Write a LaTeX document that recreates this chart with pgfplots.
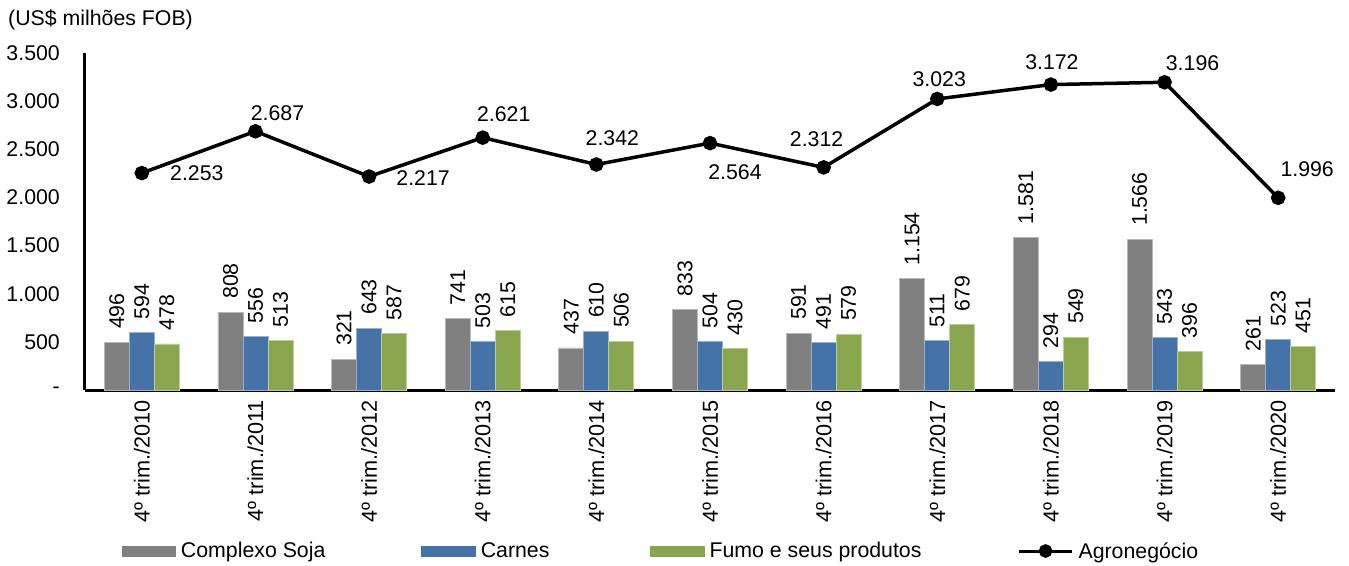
\documentclass[border=0pt]{standalone}
\usepackage{pgfplots}
\pgfplotsset{compat=1.18}
\usepackage{pgfplotstable}
\usepackage{fontspec}
\setmainfont{Liberation Sans}
\definecolor{cgrey}{HTML}{808080}
\definecolor{cblue}{HTML}{4572A7}
\definecolor{cgreen}{HTML}{89A54E}
\newcommand{\fs}{\fontsize{21.3}{25}\selectfont}

\pgfplotstableread{
x soja carnes fumo
0 496 594 478
1 808 556 513
2 321 643 587
3 741 503 615
4 437 610 506
5 833 504 430
6 591 491 579
7 1154 511 679
8 1581 294 549
9 1566 543 396
10 261 523 451
}\bars

\pgfplotstableread{
x agro dx dy
0 2253 55 0
1 2687 22 18
2 2217 54 -2
3 2621 21 23
4 2342 16 26
5 2564 25 -29
6 2312 -7 28
7 3023 2 20
8 3172 1 22
9 3196 28 19
10 1996 29 29
}\agro

\begin{document}
\begin{tikzpicture}[font=\fs]
\path[use as bounding box] (-85pt,-175pt) rectangle (1264pt,390pt);
\begin{axis}[
  at={(0pt,0pt)}, anchor=south west,
  scale only axis, width=1250pt, height=337pt,
  xmin=-0.5, xmax=10.5, ymin=0, ymax=3500,
  axis x line*=bottom, axis y line*=left,
  axis line style={line width=3pt, -},
  major tick length=0pt,
  xtick={0,...,10},
  xticklabels={4º trim./2010,4º trim./2011,4º trim./2012,4º trim./2013,4º trim./2014,4º trim./2015,4º trim./2016,4º trim./2017,4º trim./2018,4º trim./2019,4º trim./2020},
  xticklabel style={rotate=90, anchor=east, inner xsep=10pt, inner ysep=0pt, font=\fontsize{21.7}{25}\selectfont},
  ytick={0,500,...,3500},
  yticklabels={-\hspace{12pt},500,1.000,1.500,2.000,2.500,3.000,3.500},
  yticklabel style={anchor=east, inner xsep=0pt, xshift=-25pt, font=\fs},
  clip=false,
  legend columns=4,
  legend style={at={(axis description cs:0,0)}, anchor=west, xshift=37pt, yshift=-161pt,
    draw=none, fill=none, inner sep=0pt, column sep=0pt,
    nodes={inner sep=0pt, font=\fs}},
  /pgf/number format/1000 sep={.},
  /pgf/number format/assume math mode=true,
]
\addplot[ybar, bar width=0.22, bar shift=0, fill=cgrey, draw=cgrey!55!white, line width=0.8pt,
  nodes near coords, nodes near coords style={rotate=90, anchor=west, inner xsep=13pt, inner ysep=0pt, font=\fs, text=black},
  legend image code/.code={\fill[cgrey] (0pt,-5pt) rectangle (53pt,5pt);}]
  table[x expr=\thisrow{x}-0.22,y=soja]{\bars};
\addlegendentry{\makebox[245pt][l]{\hspace{5pt}Complexo Soja}}
\addplot[ybar, bar width=0.22, bar shift=0, fill=cblue, draw=cblue!55!white, line width=0.8pt,
  nodes near coords, nodes near coords style={rotate=90, anchor=west, inner xsep=13pt, inner ysep=0pt, font=\fs, text=black},
  legend image code/.code={\fill[cblue] (0pt,-5pt) rectangle (54pt,5pt);}]
  table[x=x,y=carnes]{\bars};
\addlegendentry{\makebox[174pt][l]{\hspace{5pt}Carnes}}
\addplot[ybar, bar width=0.22, bar shift=0, fill=cgreen, draw=cgreen!55!white, line width=0.8pt,
  nodes near coords, nodes near coords style={rotate=90, anchor=west, inner xsep=13pt, inner ysep=0pt, font=\fs, text=black},
  legend image code/.code={\fill[cgreen] (0pt,-5pt) rectangle (54pt,5pt);}]
  table[x expr=\thisrow{x}+0.22,y=fumo]{\bars};
\addlegendentry{\makebox[313pt][l]{\hspace{5pt}Fumo e seus produtos}}
\addplot[black, line width=3.5pt, mark=*, mark size=5.5pt,
  nodes near coords,
  visualization depends on={\thisrow{dx}\as\dx},
  visualization depends on={\thisrow{dy}\as\dy},
  every node near coord/.append style={anchor=center, inner sep=0pt, xshift=\dx pt, yshift=\dy pt, font=\fs},
  legend image code/.code={\draw[black, line width=3pt] (0pt,0pt) -- (53pt,0pt); \fill[black] (26.5pt,0pt) circle (5pt);}]
  table[x=x,y=agro]{\agro};
\addlegendentry{\hspace{5pt}Agronegócio}
\node[anchor=west, inner sep=0pt] at (rel axis cs:0,1) [xshift=-77pt, yshift=33pt] {(US\$ milhões FOB)};
\end{axis}
\end{tikzpicture}
\end{document}
